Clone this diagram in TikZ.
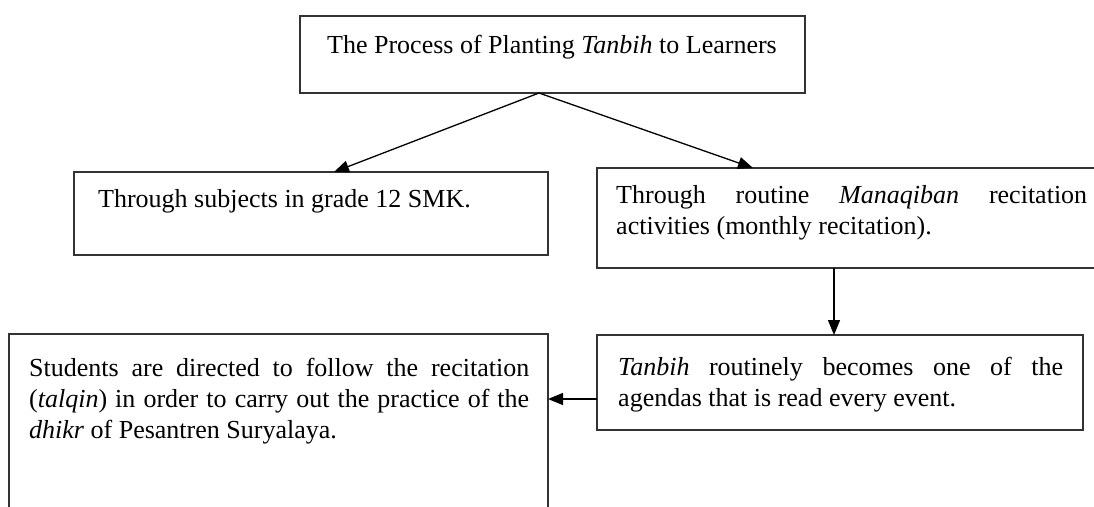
\documentclass[tikz,border=0pt]{standalone}
\usepackage{fontspec}
\setmainfont{Liberation Serif}
\usetikzlibrary{arrows.meta}
\tikzset{
  boxstyle/.style={draw=black!80, line width=1.4pt},
  txt/.style={inner sep=0pt, font=\fontsize{26}{30}\selectfont},
  arr/.style={draw=black, line width=1.3pt, -{Triangle[length=15pt,width=12pt]}}
}
\newcommand{\jtext}[2]{\parbox[t]{#1}{\fontsize{26}{31}\selectfont\tolerance=10000\hyphenpenalty=10000\exhyphenpenalty=10000 #2}}
\begin{document}
\begin{tikzpicture}[x=1pt,y=-1pt]
\useasboundingbox (0,0) rectangle (1094,506);
\clip (0,0) rectangle (1094,506);
% boxes
\draw[boxstyle] (300,16) rectangle (805,93);
\draw[boxstyle] (74,172) rectangle (548,255);
\draw[boxstyle] (597,168) rectangle (1120,268);
\draw[boxstyle] (597,335) rectangle (1083,430);
\draw[boxstyle] (9,334) rectangle (548,530);
% texts
\node[txt, anchor=base] (title) at (552,53) {The Process of Planting \textit{Tanbih} to Learners};
\node[txt, anchor=base west] (subj) at (98,207) {Through subjects in grade 12 SMK.};
\node[txt, anchor=base west] (manaq) at (616,203) {\jtext{471pt}{Through routine \textit{Manaqiban} recitation activities (monthly recitation).}};
\node[txt, anchor=base west] (tanb) at (618,375) {\jtext{445pt}{\textit{Tanbih} routinely becomes one of the agendas that is read every event.}};
\node[txt, anchor=base west] (stud) at (29,376) {\jtext{500pt}{Students are directed to follow the recitation (\textit{talqin}) in order to carry out the practice of the \textit{dhikr} of Pesantren Suryalaya.}};
% connector points
\coordinate (apex) at (539,93);
\coordinate (subjtop) at (334,172);
\coordinate (manaqtop) at (753,168);
\coordinate (manaqbot) at (834,268);
\coordinate (tanbtop) at (834,335);
\coordinate (tanbleft) at (597,399);
\coordinate (studright) at (548,399);
\draw[arr] (apex) -- (subjtop);
\draw[arr] (apex) -- (manaqtop);
\draw[arr] (manaqbot) -- (tanbtop);
\draw[arr] (tanbleft) -- (studright);
\end{tikzpicture}
\end{document}
